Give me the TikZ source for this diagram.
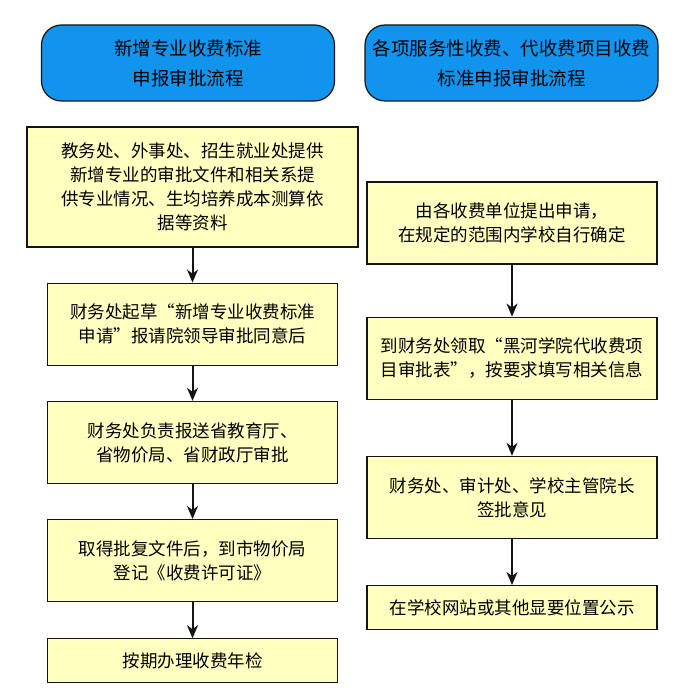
\documentclass[tikz,border=0pt]{standalone}
\usepackage{fontspec}
\newfontfamily\cjk{Noto Sans CJK SC}
\usepackage{tikz}
\usetikzlibrary{arrows,arrows.meta,shapes,positioning}
\usepackage{xcolor}
\definecolor{hdblue}{RGB}{16,148,238}
\definecolor{stepyellow}{RGB}{255,255,192}
\definecolor{lineblack}{RGB}{20,20,20}
\tikzstyle{arrow} = [line width=2pt,->,>={Stealth[length=13pt,width=11pt,inset=4pt]},color=lineblack]
\tikzstyle{headbox} = [rectangle, rounded corners=20pt, minimum width=293pt, minimum height=76pt, align=center, draw=lineblack, fill=hdblue, line width=1.2pt, font=\cjk\fontsize{18.5}{30}\selectfont]
\tikzstyle{stepbox} = [rectangle, minimum width=290pt, minimum height=82pt, align=center, draw=lineblack, fill=stepyellow, line width=1.2pt, font=\cjk\fontsize{17.5}{24}\selectfont]

\begin{document}
\begin{tikzpicture}[x=1pt,y=-1pt]
\useasboundingbox[fill=white] (0,0) rectangle (700,700);
% Headers
\node[headbox] (hl) at (188,63) {新增专业收费标准\\申报审批流程};
\node[headbox] (hr) at (511.5,63) {各项服务性收费、代收费项目收费\\标准申报审批流程};

% Left column
\node[stepbox, minimum width=331pt, minimum height=120pt] (l1) at (192.5,187) {教务处、外事处、招生就业处提供\\新增专业的审批文件和相关系提\\供专业情况、生均培养成本测算依\\据等资料};
\node[stepbox, below=35pt of l1] (l2) {财务处起草“新增专业收费标准\\申请”报请院领导审批同意后};
\node[stepbox, below=35pt of l2] (l3) {财务处负责报送省教育厅、\\省物价局、省财政厅审批};
\node[stepbox, below=35pt of l3] (l4) {取得批复文件后，到市物价局\\登记《收费许可证》};
\node[stepbox, below=36pt of l4, minimum height=44pt] (l5) {按期办理收费年检};
\draw[arrow] (l1) -- (l2);
\draw[arrow] (l2) -- (l3);
\draw[arrow] (l3) -- (l4);
\draw[arrow] (l4) -- (l5);

% Right column
\node[stepbox] (r1) at (512,223) {由各收费单位提出申请，\\在规定的范围内学校自行确定};
\node[stepbox, below=52pt of r1] (r2) {到财务处领取“黑河学院代收费项\\目审批表”，按要求填写相关信息};
\node[stepbox, below=56pt of r2] (r3) {财务处、审计处、学校主管院长\\签批意见};
\node[stepbox, below=46pt of r3, minimum height=44pt] (r4) {在学校网站或其他显要位置公示};
\draw[arrow] (r1) -- (r2);
\draw[arrow] (r2) -- (r3);
\draw[arrow] (r3) -- (r4);
\end{tikzpicture}
\end{document}
